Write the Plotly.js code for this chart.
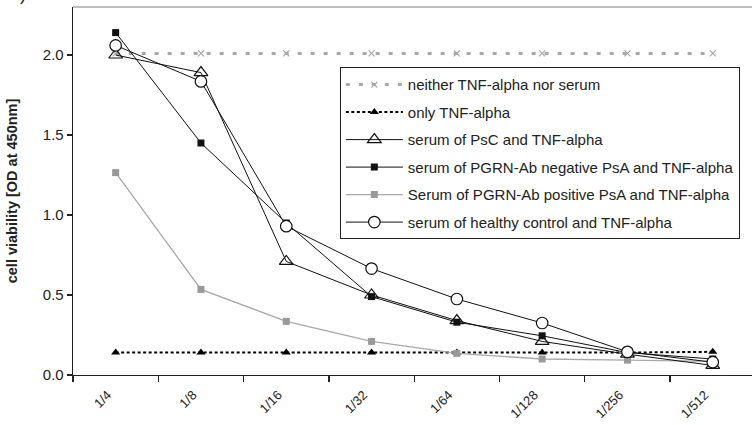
<!DOCTYPE html>
<html>
<head>
<meta charset="utf-8">
<script src="https://cdn.plot.ly/plotly-3.0.1.min.js"></script>
<style>html,body{margin:0;padding:0;background:#fff}#chart{width:752px;height:425px}</style>
</head>
<body>
<div id="chart"></div>
<script>
// Dilutions (x categories)
const dilutions = ["1/4", "1/8", "1/16", "1/32", "1/64", "1/128", "1/256", "1/512"];

// Series values (cell viability, OD at 450 nm)
const neitherTNFnorSerum = [2.01, 2.01, 2.01, 2.01, 2.01, 2.01, 2.01, 2.01];
const onlyTNF            = [0.14, 0.14, 0.14, 0.14, 0.14, 0.14, 0.14, 0.145];
const serumPsC           = [2.00, 1.89, 0.71, 0.50, 0.34, 0.21, 0.13, 0.06];
const serumNegPsA        = [2.14, 1.45, 0.95, 0.49, 0.33, 0.245, 0.14, 0.10];
const serumPosPsA        = [1.265, 0.535, 0.335, 0.21, 0.135, 0.10, 0.093, 0.085];
const serumHealthy       = [2.06, 1.835, 0.93, 0.665, 0.475, 0.325, 0.145, 0.08];

const seriesNames = [
  "neither TNF-alpha nor serum",
  "only TNF-alpha",
  "serum of PsC and TNF-alpha",
  "serum of PGRN-Ab negative PsA and TNF-alpha",
  "Serum of PGRN-Ab positive PsA and TNF-alpha",
  "serum of healthy control and TNF-alpha"
];

const yTickVals = [0, 0.5, 1.0, 1.5, 2.0];

const FONT = "Liberation Sans, Arial, sans-serif";

const traces = [
  {
    x: dilutions, y: neitherTNFnorSerum, name: seriesNames[0], legendgroup: "g0", legendrank: 1,
    mode: "lines+markers",
    line: {color: "#a8a8a8", width: 3, dash: "4px,9px"},
    marker: {symbol: "x-thin", size: 6, line: {color: "#a8a8a8", width: 1.2}, color: "#a8a8a8"}
  },
  {
    x: dilutions, y: onlyTNF, name: seriesNames[1], legendgroup: "g1", legendrank: 2,
    mode: "lines+markers",
    line: {color: "#000", width: 2, dash: "3px,2.5px"},
    marker: {symbol: "triangle-up", size: 8, color: "#000"}
  },
  {
    x: dilutions, y: serumPosPsA, name: seriesNames[4], legendgroup: "g4", legendrank: 5,
    mode: "lines+markers",
    line: {color: "#a8a8a8", width: 1.3},
    marker: {symbol: "square", size: 7, color: "#999"}
  },
  {
    x: dilutions, y: serumPsC, name: seriesNames[2], legendgroup: "g2", legendrank: 3,
    mode: "lines+markers",
    line: {color: "#111", width: 1},
    marker: {symbol: "triangle-up-open", size: 12, color: "#111", line: {width: 1.2}}
  },
  {
    x: dilutions, y: serumNegPsA, name: seriesNames[3], legendgroup: "g3", legendrank: 4,
    mode: "lines+markers",
    line: {color: "#111", width: 1},
    marker: {symbol: "square", size: 7, color: "#111"}
  },
  {
    x: dilutions, y: serumHealthy, name: seriesNames[5], legendgroup: "g5", legendrank: 6,
    mode: "lines+markers",
    line: {color: "#111", width: 1},
    marker: {symbol: "circle", size: 11.5, color: "#fff", line: {color: "#111", width: 1.2}}
  }
];

const layout = {
  width: 752, height: 425,
  margin: {l: 73, r: 0, t: 7, b: 50},
  paper_bgcolor: "#fff", plot_bgcolor: "#fff",
  font: {family: FONT, size: 13, color: "#222"},
  showlegend: true,
  legend: {
    x: 0.393, y: 0.836, xanchor: "left", yanchor: "top",
    bordercolor: "#222", borderwidth: 1, bgcolor: "#fff",
    font: {family: FONT, size: 15, color: "#222"},
    traceorder: "grouped",
    tracegroupgap: 5,
    itemwidth: 57
  },
  xaxis: {
    type: "category",
    range: [-0.5, 7.46],
    showgrid: false, zeroline: false,
    showline: true, linecolor: "#222", linewidth: 1.3,
    ticks: "outside", ticklen: 6, tickcolor: "#222", tickwidth: 1.3,
    tickson: "boundaries",
    tickangle: -45,
    ticklabelshift: -8,
    ticklabelstandoff: 6,
    tickfont: {family: FONT, size: 13, color: "#222"}
  },
  yaxis: {
    range: [0, 2.3],
    tickvals: yTickVals, tickformat: ".1f",
    showgrid: false, zeroline: false,
    showline: true, linecolor: "#222", linewidth: 1.3,
    ticks: "outside", ticklen: 5, tickcolor: "#222", tickwidth: 1.3,
    tickfont: {family: FONT, size: 15, color: "#222"},
    title: {text: "<b>cell viability [OD at 450nm]</b>", font: {family: FONT, size: 14.5, color: "#222"}, standoff: 21}
  },
  shapes: [
    {type: "line", xref: "paper", yref: "paper", x0: 0, x1: 1.01, y0: 1, y1: 1,
     line: {color: "#aaa", width: 1.5}}
  ],
  annotations: [
    {text: "b)", xref: "paper", yref: "paper", x: -0.066, y: 1.003, xanchor: "right", yanchor: "bottom",
     showarrow: false, font: {family: FONT, size: 18, color: "#222"}}
  ]
};

Plotly.newPlot("chart", traces, layout, {displayModeBar: false, staticPlot: true});
</script>
</body>
</html>
